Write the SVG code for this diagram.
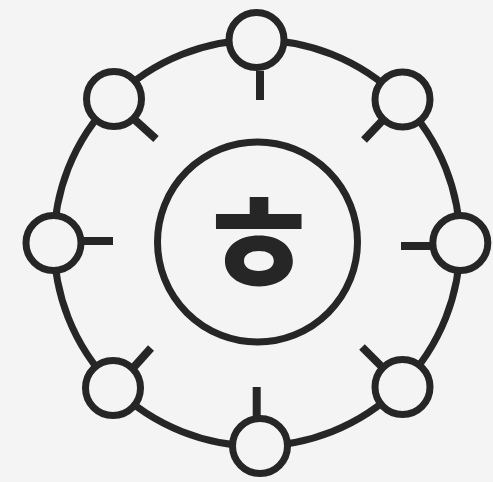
<svg xmlns="http://www.w3.org/2000/svg" width="493" height="482" viewBox="0 0 493 482">
<style>
.ln{stroke:#262626;stroke-width:7;fill:none}
.tk{stroke:#262626;stroke-width:8;fill:none;stroke-linecap:butt}
.nd{stroke:#262626;stroke-width:7;fill:#f4f4f4}
.lb{font-family:"Noto Sans CJK KR","Noto Sans",sans-serif;font-weight:700;fill:#262626}
</style>
<rect width="493" height="482" fill="#f4f4f4"/>
<g id="connectors">
<circle class="ln" cx="257" cy="243" r="203"/>
</g>
<g id="center">
<circle class="ln" cx="257.5" cy="242" r="100"/>
<text class="lb" x="258.5" y="297" font-size="140" text-anchor="middle">ㅎ</text>
</g>
<g id="node-n"><circle class="nd" cx="256.5" cy="40" r="27.5"/><line class="tk" x1="260" y1="71" x2="260" y2="100"/></g>
<g id="node-ne"><circle class="nd" cx="402.5" cy="99.5" r="27.5"/><line class="tk" x1="382" y1="121" x2="364" y2="140"/></g>
<g id="node-e"><circle class="nd" cx="460.3" cy="243" r="27.5"/><line class="tk" x1="401" y1="246" x2="430" y2="246"/></g>
<g id="node-se"><circle class="nd" cx="402.5" cy="387" r="27.5"/><line class="tk" x1="381" y1="366" x2="362" y2="347"/></g>
<g id="node-s"><circle class="nd" cx="260" cy="446" r="27.5"/><line class="tk" x1="256.7" y1="387" x2="256.7" y2="416"/></g>
<g id="node-sw"><circle class="nd" cx="113" cy="388" r="27.5"/><line class="tk" x1="134" y1="367" x2="151" y2="348"/></g>
<g id="node-w"><circle class="nd" cx="53.5" cy="243" r="27.5"/><line class="tk" x1="83" y1="241" x2="113" y2="241"/></g>
<g id="node-nw"><circle class="nd" cx="114" cy="99" r="27.5"/><line class="tk" x1="135" y1="120" x2="156" y2="139"/></g>
</svg>
